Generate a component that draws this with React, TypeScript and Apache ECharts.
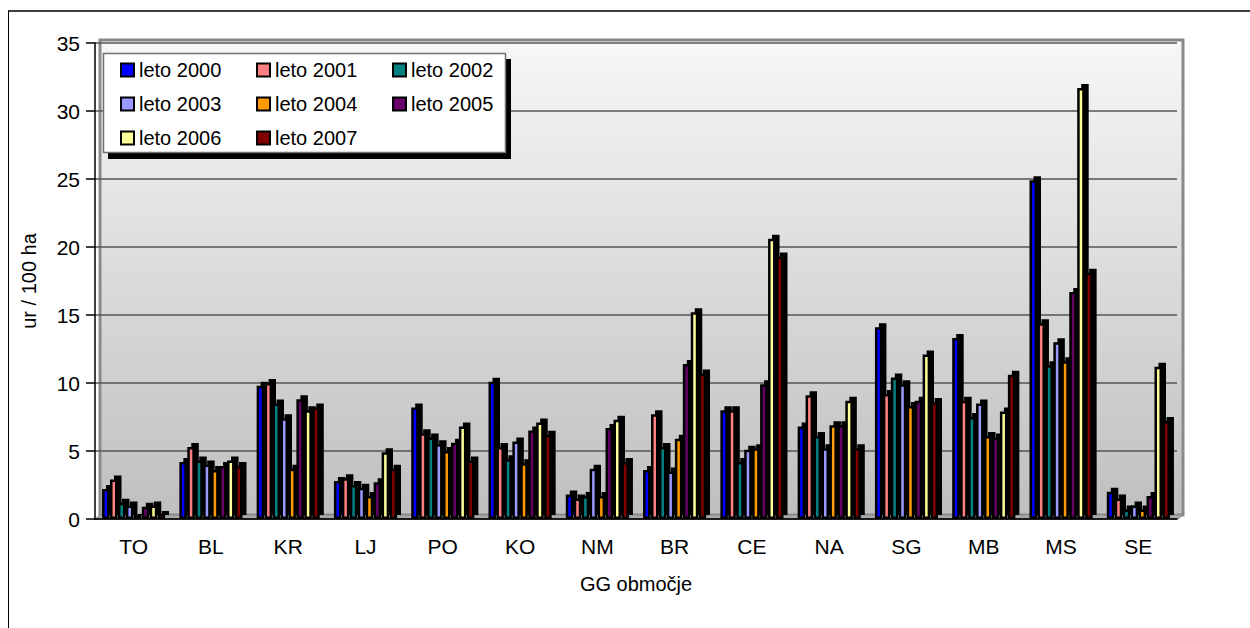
import React, { useEffect, useRef } from "react";
import * as echarts from "echarts";

const categories = ["TO", "BL", "KR", "LJ", "PO", "KO", "NM", "BR", "CE", "NA", "SG", "MB", "MS", "SE"];
const seriesNames = ["leto 2000", "leto 2001", "leto 2002", "leto 2003", "leto 2004", "leto 2005", "leto 2006", "leto 2007"];
const seriesColors = ["#0000FF", "#FF8080", "#008080", "#9999FF", "#FF9900", "#660066", "#FFFF99", "#800000"];

const y2000 = [2.2, 4.2, 9.8, 2.8, 8.2, 10.1, 1.8, 3.6, 8.0, 6.8, 14.1, 13.3, 24.9, 2.0];
const y2001 = [2.9, 5.3, 10.0, 3.0, 6.3, 5.3, 1.5, 7.7, 8.0, 9.1, 9.2, 8.7, 14.4, 1.5];
const y2002 = [1.2, 4.3, 8.5, 2.5, 6.0, 4.4, 1.7, 5.3, 4.2, 6.1, 10.4, 7.5, 11.3, 0.7];
const y2003 = [1.0, 4.0, 7.4, 2.3, 5.5, 5.7, 3.7, 3.5, 5.1, 5.2, 9.9, 8.5, 13.0, 1.0];
const y2004 = [0.3, 3.6, 3.7, 1.7, 5.0, 4.1, 1.7, 5.9, 5.2, 6.9, 8.3, 6.1, 11.6, 0.7];
const y2005 = [0.9, 3.9, 8.8, 2.7, 5.6, 6.5, 6.7, 11.4, 9.9, 6.9, 8.7, 6.0, 16.7, 1.7];
const y2006 = [1.0, 4.3, 8.0, 4.9, 6.8, 7.1, 7.3, 15.2, 20.6, 8.7, 12.1, 7.9, 31.7, 11.2];
const y2007 = [0.4, 3.9, 8.2, 3.7, 4.3, 6.2, 4.2, 10.7, 19.3, 5.2, 8.6, 10.6, 18.1, 7.2];

const seriesValues = [y2000, y2001, y2002, y2003, y2004, y2005, y2006, y2007];

const yTicks = { min: 0, max: 35, interval: 5 };
const axisTitleX = "GG območje";
const axisTitleY = "ur / 100 ha";

const FONT = "'Liberation Sans', Arial, sans-serif";

export default function App() {
  const ref = useRef<HTMLDivElement>(null);

  useEffect(() => {
    document.body.style.margin = "0";
    if (!ref.current) return;
    const chart = echarts.init(ref.current, undefined, { renderer: "svg" });

    const series = seriesNames.map((name, i) => ({
      name,
      type: "bar",
      data: seriesValues[i],
      barWidth: 7.5,
      barGap: "6%",
      itemStyle: {
        color: seriesColors[i],
        borderColor: "#000",
        borderWidth: 2.5,
        shadowColor: "#000",
        shadowBlur: 0,
        shadowOffsetX: 4,
        shadowOffsetY: -4,
      },
      emphasis: { disabled: true },
    }));

    const option = {
      animation: false,
      textStyle: { fontFamily: FONT },
      grid: { left: 95, right: 73, top: 43, bottom: 109, containLabel: false },
      legend: {
        data: seriesNames,
        left: 120,
        top: 60,
        width: 400,
        padding: 0,
        z: 60,
        orient: "horizontal",
        itemWidth: 13,
        itemHeight: 13,
        itemGap: 14,
        icon: "rect",
        itemStyle: { borderColor: "#000", borderWidth: 2, shadowColor: "transparent", shadowOffsetX: 0, shadowOffsetY: 0 },
        textStyle: { fontFamily: FONT, fontSize: 20, color: "#000", width: 103, lineHeight: 20 },
      },
      xAxis: {
        type: "category",
        data: categories,
        name: axisTitleX,
        nameLocation: "middle",
        nameGap: 55,
        nameTextStyle: { fontFamily: FONT, fontSize: 20, color: "#000" },
        axisLine: { lineStyle: { color: "#000", width: 1.5 } },
        axisTick: { length: 9, lineStyle: { color: "#000", width: 1.5 } },
        axisLabel: { fontFamily: FONT, fontSize: 21, color: "#000", margin: 17 },
        splitLine: { show: false },
      },
      yAxis: {
        type: "value",
        min: yTicks.min,
        max: yTicks.max,
        interval: yTicks.interval,
        name: axisTitleY,
        nameLocation: "middle",
        nameGap: 56,
        nameTextStyle: { fontFamily: FONT, fontSize: 20, color: "#000" },
        axisLine: { show: true, lineStyle: { color: "#000", width: 1.5 } },
        axisTick: { show: true, length: 9, lineStyle: { color: "#000", width: 1.5 } },
        axisLabel: { fontFamily: FONT, fontSize: 21, color: "#000", margin: 15 },
        splitLine: { show: true, lineStyle: { color: "#555", width: 1.5 } },
      },
      graphic: [
        {
          type: "line",
          z: -20,
          shape: { x1: 8.5, y1: 11, x2: 8.5, y2: 628 },
          style: { stroke: "#000", lineWidth: 1 },
        },
        {
          type: "line",
          z: -20,
          shape: { x1: 8, y1: 11, x2: 1250, y2: 11 },
          style: { stroke: "#000", lineWidth: 1.5 },
        },
        {
          type: "rect",
          z: -10,
          shape: { x: 100, y: 40, width: 1083, height: 475 },
          style: {
            fill: new echarts.graphic.LinearGradient(0, 0, 0, 1, [
              { offset: 0, color: "#f7f7f7" },
              { offset: 1, color: "#bfbfbf" },
            ]),
            stroke: "#8a8a8a",
            lineWidth: 3,
          },
        },
        {
          type: "polygon",
          z: -9,
          shape: { points: [[95, 519], [100, 515], [1183, 515], [1178, 519]] },
          style: { fill: "#a8a8a8", stroke: "#8a8a8a", lineWidth: 1 },
        },
        {
          type: "rect",
          z: 50,
          shape: { x: 108, y: 59, width: 403, height: 100 },
          style: { fill: "#000" },
        },
        {
          type: "rect",
          z: 51,
          shape: { x: 103.5, y: 53.5, width: 402, height: 99 },
          style: { fill: "#fff", stroke: "#707070", lineWidth: 1.5 },
        },
      ],
      series,
    };

    chart.setOption(option as any);
    return () => chart.dispose();
  }, []);

  return <div ref={ref} style={{ width: 1250, height: 628 }} />;
}
